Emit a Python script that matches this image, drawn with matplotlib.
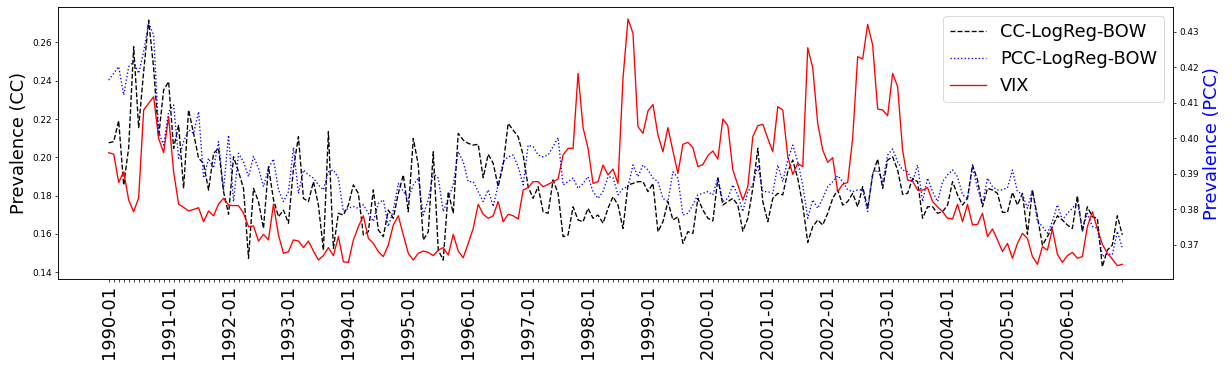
import numpy as np
import pandas as pd
import matplotlib
matplotlib.use("Agg")
import matplotlib.pyplot as plt

# monthly labels 1990-01 .. 2006-12
months = pd.date_range("1990-01", periods=204, freq="MS").strftime("%Y-%m").tolist()

cc = [0.2076, 0.2082, 0.2191, 0.1855, 0.2050, 0.2577, 0.2155, 0.2447, 0.2716, 0.2464, 0.2108, 0.2351,
      0.2395, 0.2047, 0.2169, 0.1838, 0.2247, 0.2125, 0.1995, 0.1969, 0.1829, 0.2021, 0.2047, 0.1821,
      0.1703, 0.2003, 0.1925, 0.1838, 0.1473, 0.1838, 0.1769, 0.1629, 0.1951,
      0.1780, 0.1690, 0.1725, 0.1656, 0.1942, 0.2108, 0.1786, 0.1769, 0.1873, 0.1751, 0.1516, 0.2134,
      0.1525, 0.1708, 0.1699, 0.1751, 0.1856, 0.1812, 0.1595, 0.1612, 0.1830, 0.1621, 0.1586, 0.1725,
      0.1682, 0.1812, 0.1908, 0.1716, 0.2099, 0.1960, 0.1569, 0.1612, 0.2029, 0.1516, 0.1464,
      0.1821, 0.1708, 0.2125, 0.2090, 0.2073, 0.2064, 0.2068, 0.1894, 0.2016, 0.1969, 0.1847, 0.1960,
      0.2177, 0.2142, 0.2108, 0.2012, 0.1847, 0.1786, 0.1847, 0.1716, 0.1708, 0.1882, 0.1812, 0.1586,
      0.1595, 0.1742, 0.1673, 0.1664, 0.1734, 0.1682, 0.1699, 0.1656, 0.1734, 0.1795,
      0.1751, 0.1629, 0.1856, 0.1864, 0.1873, 0.1873, 0.1821, 0.1864, 0.1612, 0.1664, 0.1769, 0.1673,
      0.1690, 0.1551, 0.1612, 0.1603, 0.1786, 0.1725, 0.1682, 0.1668, 0.1890, 0.1751, 0.1769, 0.1786,
      0.1751, 0.1615, 0.1682, 0.1838, 0.2047, 0.1769, 0.1664, 0.1786, 0.1812, 0.1804,
      0.1925, 0.1986, 0.1890, 0.1751, 0.1556, 0.1638, 0.1673, 0.1647, 0.1708, 0.1786, 0.1830, 0.1751,
      0.1769, 0.1812, 0.1742, 0.1847, 0.1734, 0.1908, 0.1991, 0.1838, 0.1986, 0.2003, 0.1934, 0.1807,
      0.1812, 0.1890, 0.1873, 0.1682, 0.1742, 0.1742, 0.1708, 0.1716, 0.1751, 0.1873,
      0.1804, 0.1751, 0.1786, 0.1960, 0.1882, 0.1742, 0.1838, 0.1830, 0.1812, 0.1713, 0.1713, 0.1817,
      0.1751, 0.1812, 0.1598, 0.1830, 0.1690, 0.1542, 0.1586, 0.1638, 0.1695, 0.1673, 0.1647, 0.1629,
      0.1800, 0.1612, 0.1742, 0.1690, 0.1682, 0.1429, 0.1516, 0.1542, 0.1695, 0.1595]

pcc = [0.4164, 0.4183, 0.4202, 0.4122, 0.4202, 0.4216, 0.4183, 0.4244, 0.4324, 0.4291, 0.4019, 0.3981,
       0.4075, 0.4094, 0.3944, 0.3991, 0.4024, 0.4014, 0.4075, 0.3888, 0.3944, 0.3916, 0.3991, 0.3855,
       0.4009, 0.3822, 0.3958, 0.3934, 0.3892, 0.3949, 0.3916, 0.3864, 0.3916,
       0.3942, 0.3855, 0.3822, 0.3850, 0.3974, 0.3845, 0.3911, 0.3897, 0.3888, 0.3869, 0.3855, 0.3906,
       0.3911, 0.3888, 0.3794, 0.3803, 0.3808, 0.3803, 0.3813, 0.3789, 0.3766, 0.3817, 0.3827, 0.3752,
       0.3798, 0.3873, 0.3850, 0.3831, 0.3869, 0.3888, 0.3784, 0.3827, 0.3902, 0.3888, 0.3794,
       0.3831, 0.3869, 0.3963, 0.3934, 0.3878, 0.3878, 0.3850, 0.3822, 0.3855, 0.3808, 0.3869, 0.3934,
       0.3948, 0.3953, 0.3920, 0.3869, 0.3981, 0.3977, 0.3953, 0.3948, 0.3953, 0.3977, 0.4002, 0.3869,
       0.3878, 0.3888, 0.3859, 0.3873, 0.3892, 0.3850, 0.3831, 0.3850, 0.3892, 0.3890,
       0.3841, 0.3859, 0.3864, 0.3925, 0.3892, 0.3925, 0.3911, 0.3888, 0.3878, 0.3831, 0.3822, 0.3906,
       0.3888, 0.3784, 0.3789, 0.3813, 0.3841, 0.3845, 0.3850, 0.3841, 0.3889, 0.3822, 0.3831, 0.3869,
       0.3841, 0.3794, 0.3850, 0.3869, 0.3925, 0.3850, 0.3850, 0.3845, 0.3925, 0.3878,
       0.3939, 0.3981, 0.3934, 0.3869, 0.3775, 0.3827, 0.3803, 0.3831, 0.3864, 0.3878, 0.3895, 0.3878,
       0.3855, 0.3850, 0.3855, 0.3855, 0.3794, 0.3902, 0.3911, 0.3878, 0.3953, 0.3970, 0.3934, 0.3911,
       0.3906, 0.3878, 0.3925, 0.3822, 0.3888, 0.3850, 0.3822, 0.3878, 0.3897, 0.3911,
       0.3892, 0.3841, 0.3831, 0.3920, 0.3859, 0.3817, 0.3888, 0.3864, 0.3855, 0.3855, 0.3861, 0.3911,
       0.3850, 0.3843, 0.3803, 0.3855, 0.3766, 0.3752, 0.3733, 0.3766, 0.3813, 0.3770, 0.3789, 0.3803,
       0.3822, 0.3742, 0.3789, 0.3752, 0.3747, 0.3667, 0.3676, 0.3672, 0.3738, 0.3691]

# VIX, rescaled to the CC axis
vix = [0.2024, 0.2017, 0.1869, 0.1925, 0.1777, 0.1716, 0.1789, 0.2247, 0.2282, 0.2316, 0.2099, 0.2024,
       0.2212, 0.1925, 0.1756, 0.1739, 0.1720, 0.1728, 0.1737, 0.1664, 0.1720, 0.1695, 0.1756, 0.1786,
       0.1751, 0.1748, 0.1748, 0.1708, 0.1638, 0.1642, 0.1563, 0.1598, 0.1569,
       0.1755, 0.1595, 0.1499, 0.1508, 0.1569, 0.1563, 0.1529, 0.1563, 0.1511, 0.1464, 0.1487, 0.1529,
       0.1487, 0.1586, 0.1455, 0.1452, 0.1569, 0.1638, 0.1695, 0.1577, 0.1551, 0.1508, 0.1482, 0.1543,
       0.1647, 0.1695, 0.1595, 0.1499, 0.1464, 0.1499, 0.1511, 0.1504, 0.1487, 0.1516, 0.1529,
       0.1490, 0.1598, 0.1511, 0.1476, 0.1551, 0.1629, 0.1755, 0.1703, 0.1682, 0.1695, 0.1769, 0.1664,
       0.1703, 0.1695, 0.1678, 0.1829, 0.1842, 0.1873, 0.1873, 0.1847, 0.1859, 0.1873, 0.1887, 0.2012,
       0.2047, 0.2047, 0.2438, 0.2155, 0.2047, 0.1864, 0.1873, 0.1960, 0.1908, 0.1939,
       0.1864, 0.2412, 0.2722, 0.2647, 0.2160, 0.2125, 0.2242, 0.2276, 0.2116, 0.2029, 0.2155, 0.2033,
       0.1916, 0.2068, 0.2078, 0.2050, 0.1951, 0.1963, 0.2009, 0.2033, 0.1991, 0.2200, 0.2165, 0.1934,
       0.1856, 0.1777, 0.1847, 0.2108, 0.2165, 0.2172, 0.2099, 0.2029, 0.2264, 0.2247,
       0.2003, 0.1911, 0.1969, 0.1951, 0.2572, 0.2468, 0.2177, 0.2038, 0.1974, 0.1998, 0.1821, 0.1859,
       0.1869, 0.2099, 0.2525, 0.2513, 0.2694, 0.2586, 0.2252, 0.2247, 0.2217, 0.2438, 0.2369, 0.2038,
       0.1882, 0.1876, 0.1829, 0.1829, 0.1842, 0.1769, 0.1742, 0.1716, 0.1682, 0.1678,
       0.1755, 0.1664, 0.1755, 0.1647, 0.1650, 0.1708, 0.1586, 0.1626, 0.1569, 0.1508, 0.1551, 0.1473,
       0.1551, 0.1603, 0.1577, 0.1482, 0.1442, 0.1534, 0.1516, 0.1626, 0.1494, 0.1452, 0.1487, 0.1504,
       0.1473, 0.1482, 0.1638, 0.1716, 0.1629, 0.1546, 0.1499, 0.1469, 0.1435, 0.1442]

x = np.arange(len(months))
xlabels = [m if m.endswith("-01") else "" for m in months]

fig = plt.figure(figsize=(19.25, 5.75), dpi=64)
ax1 = fig.add_axes([0.0471, 0.2418, 0.905, 0.7384])
ax2 = ax1.twinx()

l1, = ax1.plot(x, cc, "k--", label="CC-LogReg-BOW")
l3, = ax1.plot(x, vix, "r-", label="VIX")
l2, = ax2.plot(x, pcc, "b:", label="PCC-LogReg-BOW")

ax1.set_ylim(0.1365, 0.2783)
ax2.set_ylim(0.3604, 0.4369)
ax1.set_xticks(x)
ax1.set_xticklabels(xlabels, rotation=90, fontsize=20)
ax1.set_ylabel("Prevalence (CC)", fontsize=20)
ax2.set_ylabel("Prevalence (PCC)", fontsize=20, color="b")

ax2.legend([l1, l2, l3], ["CC-LogReg-BOW", "PCC-LogReg-BOW", "VIX"], loc="upper right", fontsize=20)

fig.savefig("out.png", dpi=64)
